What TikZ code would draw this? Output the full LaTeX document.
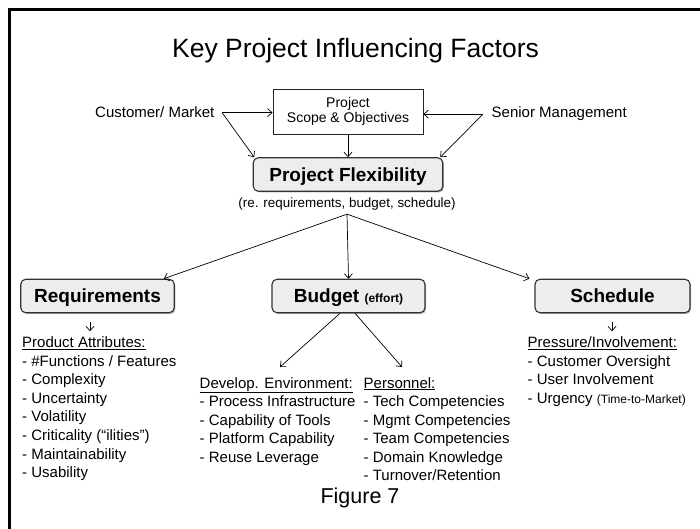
\documentclass[tikz,border=0pt]{standalone}
\usepackage{fontspec}
\setmainfont{Liberation Sans}
\usetikzlibrary{arrows.meta,shadows,calc}
\begin{document}
\begin{tikzpicture}[x=1pt,y=-1pt,
  conn/.style={draw=black,line width=0.7pt,-{Straight Barb[length=4.5pt,width=8pt]}},
  keybox/.style={draw=black!80,line width=1.1pt,rounded corners=5pt,fill=black!7,
    minimum height=33.5pt,inner sep=0pt,font=\fontsize{19}{22}\selectfont\bfseries,
    text height=13.6pt,text depth=0pt,
    drop shadow={shadow xshift=1.2pt,shadow yshift=-1.2pt,fill=black,opacity=0.3}},
  plainbox/.style={draw=black!85,line width=0.8pt,fill=white,inner sep=0pt,
    minimum width=150pt,minimum height=45pt,align=center,font=\fontsize{14}{15.5}\selectfont},
  plaintext/.style={inner sep=0pt,anchor=base,font=\fontsize{15}{18}\selectfont},
  listtext/.style={inner sep=0pt,anchor=base west,font=\fontsize{15}{18}\selectfont}
]
\useasboundingbox (0,0) rectangle (700,529);
\begin{scope}
\clip (0,0) rectangle (700,529);
\fill[white] (0,0) rectangle (700,529);
\draw[line width=3pt] (9.5,560) -- (9.5,9.5) -- (730,9.5);
\end{scope}

% title
\node[plaintext,font=\fontsize{26.5}{30}\selectfont] (title) at (355.5,57.3) {Key Project Influencing Factors};

% top row
\node[plainbox] (proj) at (348,111.5) {Project\\Scope \& Objectives};
\node[plaintext,anchor=base west] (cm) at (95,118) {Customer/ Market};
\node[plaintext,anchor=base west] (sm) at (491.5,118) {Senior Management};

\node[keybox,minimum width=189.5pt] (pf) at (348,174.5) {Project Flexibility};
\node[plaintext,font=\fontsize{13.4}{16}\selectfont] (re) at (347,207.7) {(re. requirements, budget, schedule)};

% second row
\node[keybox,minimum width=153.5pt] (req) at (97.5,296) {Requirements};
\node[keybox,minimum width=153pt] (bud) at (348.5,296) {Budget {\fontsize{12}{14}\selectfont (effort)}};
\node[keybox,minimum width=155pt] (sch) at (612.5,296) {Schedule};

% connectors top
\coordinate (cmv) at ([xshift=7.5pt]cm.east);
\draw[conn] (cmv) -- (cmv -| proj.west);
\draw[conn] (cmv) -- ([xshift=1.5pt]pf.north west);
\coordinate (smv) at ([xshift=-8.5pt]sm.west);
\draw[conn] (smv) -- (smv -| proj.east);
\draw[conn] (smv) -- ([xshift=-3pt]pf.north east);
\draw[conn] (proj.south) -- (pf.north);

\coordinate (hub) at ([yshift=-3.5pt]re.south);
\draw[conn] (hub) -- ([xshift=-11pt]req.north east);
\draw[conn] (hub) -- (bud.north);
\draw[conn] (hub) -- ([xshift=-5pt]sch.north west);

% lists
\foreach \t [count=\i from 0] in {{\underline{Product Attributes:}},{- \#Functions / Features},{- Complexity},{- Uncertainty},{- Volatility},{- Criticality (“ilities”)},{- Maintainability},{- Usability}}
  \node[listtext,name=pa\i] at (22,{347.5+18.6*\i}) {\t};

\foreach \t [count=\i from 0] in {{\underline{Develop. Environment:}},{- Process Infrastructure},{- Capability of Tools},{- Platform Capability},{- Reuse Leverage}}
  \node[listtext,name=de\i] at (199.5,{388+18.5*\i}) {\t};

\foreach \t [count=\i from 0] in {{\underline{Personnel:}},{- Tech Competencies},{- Mgmt Competencies},{- Team Competencies},{- Domain Knowledge},{- Turnover/Retention}}
  \node[listtext,name=pe\i] at (363.5,{388+18.5*\i}) {\t};

\foreach \t [count=\i from 0] in {{\underline{Pressure/Involvement:}},{- Customer Oversight},{- User Involvement},{- Urgency {\fontsize{12}{14}\selectfont (Time-to-Market)}}}
  \node[listtext,name=pr\i] at (527.5,{347.5+18.6*\i}) {\t};

% small connectors
\draw[conn] ([xshift=-7.5pt,yshift=-9pt]req.south) -- ([xshift=-7.5pt,yshift=-18pt]req.south);
\draw[conn] ([xshift=-0.5pt,yshift=-9pt]sch.south) -- ([xshift=-0.5pt,yshift=-18pt]sch.south);
\coordinate (devtip) at (280,367);
\coordinate (pertip) at (402,367);
\draw[conn] ([xshift=-8.5pt]bud.south) -- (devtip);
\draw[conn] ([xshift=6.5pt]bud.south) -- (pertip);

\node[plaintext,font=\fontsize{21.5}{24}\selectfont] (fig) at (360,503.3) {Figure 7};
\end{tikzpicture}
\end{document}
